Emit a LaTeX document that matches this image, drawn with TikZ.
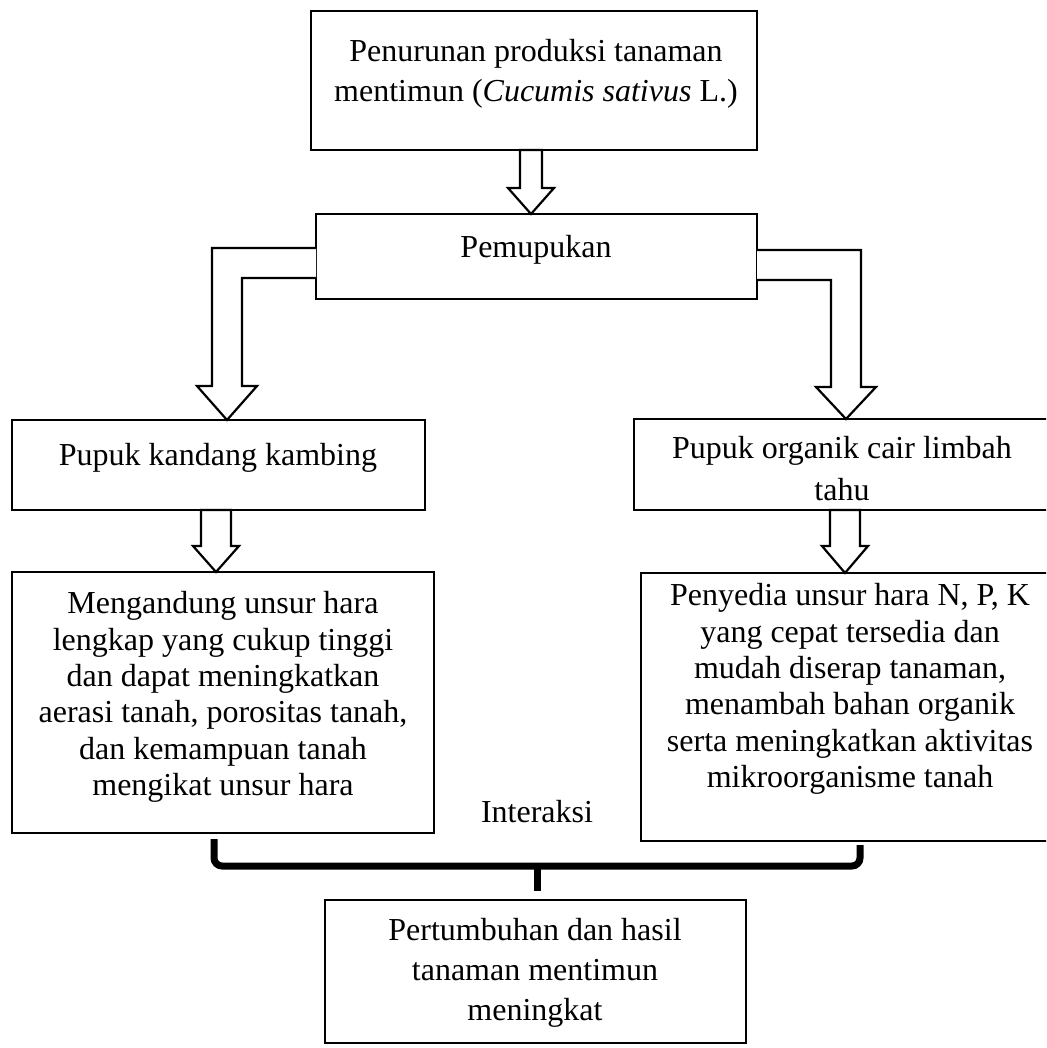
\documentclass[tikz,border=0pt]{standalone}
\usepackage{fontspec}
\setmainfont{Liberation Serif}
\usetikzlibrary{calc}
\begin{document}
\begin{tikzpicture}[x=0.5pt,y=-0.5pt,
  box/.style={draw, line width=1.1pt, inner sep=0pt, outer sep=0pt, anchor=north west},
  blk/.style={draw, line width=1.1pt, line join=miter, fill=white},
  txt/.style={inner sep=0pt, align=center},
  fa/.style={font=\fontsize{16}{20}\selectfont},
  fb/.style={font=\fontsize{16}{21}\selectfont},
  fc/.style={font=\fontsize{16}{18.2}\selectfont},
  bracestyle/.style={line width=3.5pt, rounded corners=4pt}]
\useasboundingbox (0,0) rectangle (1046,1048);
\clip (0,0) rectangle (1046,1048);

% boxes
\node[box, minimum width=223pt, minimum height=69.5pt] (top) at (311,11) {};
\node[box, minimum width=220.5pt, minimum height=42.5pt] (pem) at (316,214) {};
\node[box, minimum width=206.5pt, minimum height=45pt] (pk) at (12,420) {};
\node[box, minimum width=209pt, minimum height=45.5pt] (poc) at (634,419) {};
\node[box, minimum width=211pt, minimum height=130.5pt] (ml) at (12,572) {};
\node[box, minimum width=205.5pt, minimum height=134pt] (mr) at (641,573) {};
\node[box, minimum width=210.5pt, minimum height=71.5pt] (hasil) at (325,900) {};

% block arrows
\draw[blk] (520,0 |- top.south) -- (520,188) -- (508,188) -- (531,0 |- pem.north)
  -- (554,188) -- (542,188) -- (542,0 |- top.south) -- cycle;
\draw[blk] (pem.west |- 0,248) -- (212,248) -- (212,386) -- (197,386) -- (227,0 |- pk.north)
  -- (257,386) -- (242,386) -- (242,278) -- (pem.west |- 0,278);
\draw[blk] (pem.east |- 0,250) -- (861,250) -- (861,387) -- (876,387) -- (846,0 |- poc.north)
  -- (816,387) -- (831,387) -- (831,280) -- (pem.east |- 0,280);
\draw[blk] (201,0 |- pk.south) -- (201,546) -- (193,546) -- (216,0 |- ml.north)
  -- (239,546) -- (231,546) -- (231,0 |- pk.south) -- cycle;
\draw[blk] (830,0 |- poc.south) -- (830,546) -- (822,546) -- (845,0 |- mr.north)
  -- (868,546) -- (860,546) -- (860,0 |- poc.south) -- cycle;

% bracket
\coordinate (bl) at (214,839);
\coordinate (br) at (860,845);
\coordinate (bs) at (537,891);
\draw[bracestyle] (bl) -- (214,866) -- (860,866) -- (br);
\draw[bracestyle] (537,866) -- (bs);

% texts
\node[txt, fa, anchor=north] (toptext) at (536,39) {Penurunan produksi tanaman\\mentimun (\textit{Cucumis sativus} L.)};
\node[txt, fa, anchor=base] (pemtext) at (536,257) {Pemupukan};
\node[txt, fa, anchor=base] (pktext) at (218,465) {Pupuk kandang kambing};
\node[txt, fb, anchor=north] (poctext) at (842,436) {Pupuk organik cair limbah\\tahu};
\node[txt, fc, anchor=north] (mltext) at (223,591) {Mengandung unsur hara\\lengkap yang cukup tinggi\\dan dapat meningkatkan\\aerasi tanah, porositas tanah,\\dan kemampuan tanah\\mengikat unsur hara};
\node[txt, fc, anchor=north] (mrtext) at (850,583) {Penyedia unsur hara N, P, K\\yang cepat tersedia dan\\mudah diserap tanaman,\\menambah bahan organik\\serta meningkatkan aktivitas\\mikroorganisme tanah};
\node[txt, fa, anchor=base] (intertext) at (537,822) {Interaksi};
\node[txt, fa, anchor=north] (hasiltext) at (535,918) {Pertumbuhan dan hasil\\tanaman mentimun\\meningkat};
\end{tikzpicture}
\end{document}
